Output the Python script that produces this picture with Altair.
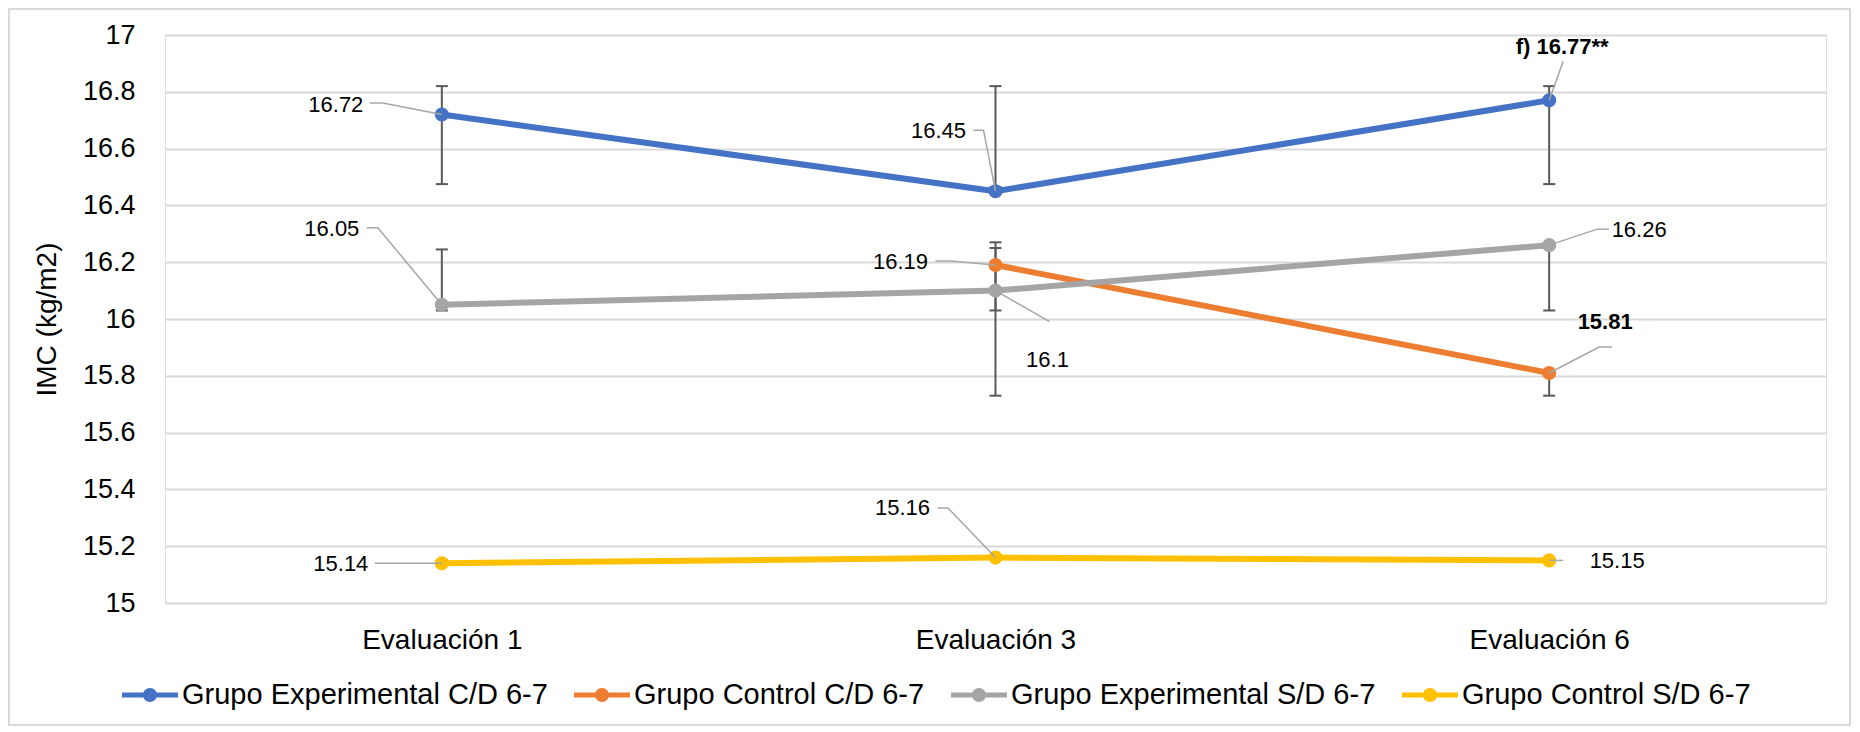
import json
import altair as alt
import pandas as pd

# ---------------- data ----------------
categories = ["Evaluación 1", "Evaluación 3", "Evaluación 6"]
series = ["Grupo Experimental C/D 6-7", "Grupo Control C/D 6-7",
          "Grupo Experimental S/D 6-7", "Grupo Control S/D 6-7"]
colors = ["#4472C4", "#ED7D31", "#A5A5A5", "#FFC000"]

exp_cd = [16.72, 16.45, 16.77]
ctrl_cd = [None, 16.19, 15.81]
exp_sd = [16.05, 16.10, 16.26]
ctrl_sd = [15.14, 15.16, 15.15]

# error bars: (low, high) per category
err_exp_cd = [(16.475, 16.82), (16.465, 16.82), (16.475, 16.82)]
err_ctrl_cd = [None, (15.73, 16.27), (15.73, 15.81)]
err_exp_sd = [(16.03, 16.245), (16.03, 16.25), (16.03, 16.26)]
err_ctrl_sd = [(15.13, 15.15), None, None]

# data labels: (series index, category index, text)
label_texts = [
    (0, 0, "16.72"), (0, 1, "16.45"), (0, 2, "f) 16.77**"),
    (1, 1, "16.19"), (1, 2, "15.81"),
    (2, 0, "16.05"), (2, 1, "16.1"), (2, 2, "16.26"),
    (3, 0, "15.14"), (3, 1, "15.16"), (3, 2, "15.15"),
]
bold_labels = ["f) 16.77**", "15.81"]

y_ticks = [15, 15.2, 15.4, 15.6, 15.8, 16, 16.2, 16.4, 16.6, 16.8, 17]

# ---------------- layout / style ----------------
W, H = 1661, 568
X_DOM = [-0.5, 2.5]
Y_DOM = [15, 17]
PX_X = W / (X_DOM[1] - X_DOM[0])
PX_Y = H / (Y_DOM[1] - Y_DOM[0])
FONT = "Liberation Sans"

label_offsets = {
    (0, 0): (-106, -10), (0, 1): (-57, -60), (0, 2): (13, -53),
    (1, 1): (-95, -3), (1, 2): (56, -51),
    (2, 0): (-110, -76), (2, 1): (52, 69), (2, 2): (90, -15),
    (3, 0): (-101, 1), (3, 1): (-93, -50), (3, 2): (68, 1),
}
leader_offsets = {
    (0, 0): [(-72, -11.5), (-59, -11.5), (0, 0)],
    (0, 1): [(-22, -61), (-12, -61), (0, 0)],
    (0, 2): [(14, -39), (0, 0)],
    (1, 1): [(-60, -4), (-45, -4), (0, 0)],
    (1, 2): [(63, -26), (50, -26), (0, 0)],
    (2, 0): [(-75, -77), (-64, -77), (0, 0)],
    (2, 1): [(0, 0), (54, 31)],
    (2, 2): [(60, -16), (48, -16), (0, 0)],
    (3, 0): [(-67, 0), (0, 0)],
    (3, 1): [(-58, -49.5), (-47.5, -49.5), (0, 0)],
    (3, 2): [(0, 0), (14, 0)],
}
CAP_HALF = 6  # px

values_by_series = [exp_cd, ctrl_cd, exp_sd, ctrl_sd]
errs_by_series = [err_exp_cd, err_ctrl_cd, err_exp_sd, err_ctrl_sd]

rows = []
for s, vals in enumerate(values_by_series):
    for i, v in enumerate(vals):
        if v is not None:
            rows.append({"serie": series[s], "col": colors[s], "idx": i, "value": v})
df = pd.DataFrame(rows)

err_rows, cap_rows = [], []
for s, errs in enumerate(errs_by_series):
    for i, e in enumerate(errs):
        if e is None:
            continue
        lo, hi = e
        err_rows.append({"idx": i, "lo": lo, "hi": hi})
        for yv in (lo, hi):
            cap_rows.append({"x1": i - CAP_HALF / PX_X, "x2": i + CAP_HALF / PX_X, "y": yv})
df_err = pd.DataFrame(err_rows)
df_cap = pd.DataFrame(cap_rows)

lab_rows, lead_rows = [], []
for lid, (s, i, t) in enumerate(label_texts):
    v = values_by_series[s][i]
    dx, dy = label_offsets[(s, i)]
    lab_rows.append({"x": i + dx / PX_X, "y": v - dy / PX_Y, "text": t,
                     "bold": t in bold_labels})
    for k, (ox, oy) in enumerate(leader_offsets[(s, i)]):
        lead_rows.append({"lid": lid, "k": k, "x": i + ox / PX_X, "y": v - oy / PX_Y})
df_lab = pd.DataFrame(lab_rows)
df_lead = pd.DataFrame(lead_rows)

# ---------------- encodings ----------------
label_expr = json.dumps(categories) + "[datum.value]"
x_axis = alt.Axis(values=[0, 1, 2], labelExpr=label_expr, title=None, grid=False,
                  domain=False, ticks=False, tickSize=0, labelPadding=23,
                  labelFontSize=28, labelColor="#000000", labelFont=FONT)
y_axis = alt.Axis(values=y_ticks, format="~g", title="IMC (kg/m2)", titleFontSize=28,
                  titleFontWeight="normal", titleColor="#000000", titleFont=FONT,
                  titleX=-118, titleY=H / 2, titleAngle=270, titleAlign="center",
                  titleBaseline="middle", grid=True, gridColor="#d9d9d9", gridWidth=2,
                  domain=False, ticks=False, tickSize=0, labelPadding=30,
                  labelFontSize=27, labelColor="#000000", labelFont=FONT)
x_scale = alt.Scale(domain=X_DOM, nice=False, zero=False)
y_scale = alt.Scale(domain=Y_DOM, nice=False, zero=False)


def X(f):
    return alt.X(f, type="quantitative", scale=x_scale, axis=x_axis)


def Y(f):
    return alt.Y(f, type="quantitative", scale=y_scale, axis=y_axis)


# legend symbol: line segment + dot (filled path)
r = 0.25
SYM = ("M-1,-0.09L1,-0.09L1,0.09L-1,0.09L-1,-0.09"
       f"M{-r},0A{r},{r} 0 1,1 {r},0A{r},{r} 0 1,1 {-r},0Z")

legend = alt.Legend(title=None, orient="none", legendX=-43, legendY=632,
                    direction="horizontal", columns=4, symbolType=SYM,
                    symbolSize=3136, symbolStrokeWidth=0, symbolOpacity=1,
                    labelFontSize=29, labelFont=FONT, labelColor="#000000",
                    labelOffset=4, columnPadding=26, padding=0, labelLimit=1000)

border = alt.Chart(alt.Data(values=[{"a": 1}])).mark_rect(
    fill="transparent", stroke="#d9d9d9", strokeWidth=2
).encode(x=alt.value(-156), x2=alt.value(1685), y=alt.value(-26), y2=alt.value(690))

err_rule = alt.Chart(df_err).mark_rule(color="#595959", strokeWidth=2).encode(
    x=X("idx"), y=Y("lo"), y2="hi")
err_cap = alt.Chart(df_cap).mark_rule(color="#595959", strokeWidth=2).encode(
    x=X("x1"), x2="x2", y=Y("y"))

lines = alt.Chart(df).mark_line(strokeWidth=6, strokeJoin="round", strokeCap="round").encode(
    x=X("idx"), y=Y("value"),
    stroke=alt.Stroke("col:N", scale=None),
    detail="serie:N",
    order="idx:Q")

points = alt.Chart(df).mark_point(filled=True, size=200, opacity=1, strokeWidth=0).encode(
    x=X("idx"), y=Y("value"),
    color=alt.Color("serie:N", scale=alt.Scale(domain=series, range=colors), legend=legend))

leaders = alt.Chart(df_lead).mark_line(color="#a6a6a6", strokeWidth=1.5).encode(
    x=X("x"), y=Y("y"), detail="lid:N", order="k:Q")

labels_n = alt.Chart(df_lab).transform_filter("!datum.bold").mark_text(
    fontSize=22, font=FONT, color="#000000", align="center", baseline="middle"
).encode(x=X("x"), y=Y("y"), text="text:N")
labels_b = alt.Chart(df_lab).transform_filter("datum.bold").mark_text(
    fontSize=22, font=FONT, fontWeight="bold", color="#000000", align="center",
    baseline="middle"
).encode(x=X("x"), y=Y("y"), text="text:N")

chart = alt.layer(border, err_rule, err_cap, lines, points, leaders, labels_n, labels_b).properties(
    width=W, height=H,
    padding={"left": 157, "top": 27, "right": 26, "bottom": 124},
    autosize=alt.AutoSizeParams(type="none"),
    background="white",
).configure_view(stroke=None).configure(font=FONT)

chart.save("out.html", embed_options={"renderer": "svg", "actions": False})
